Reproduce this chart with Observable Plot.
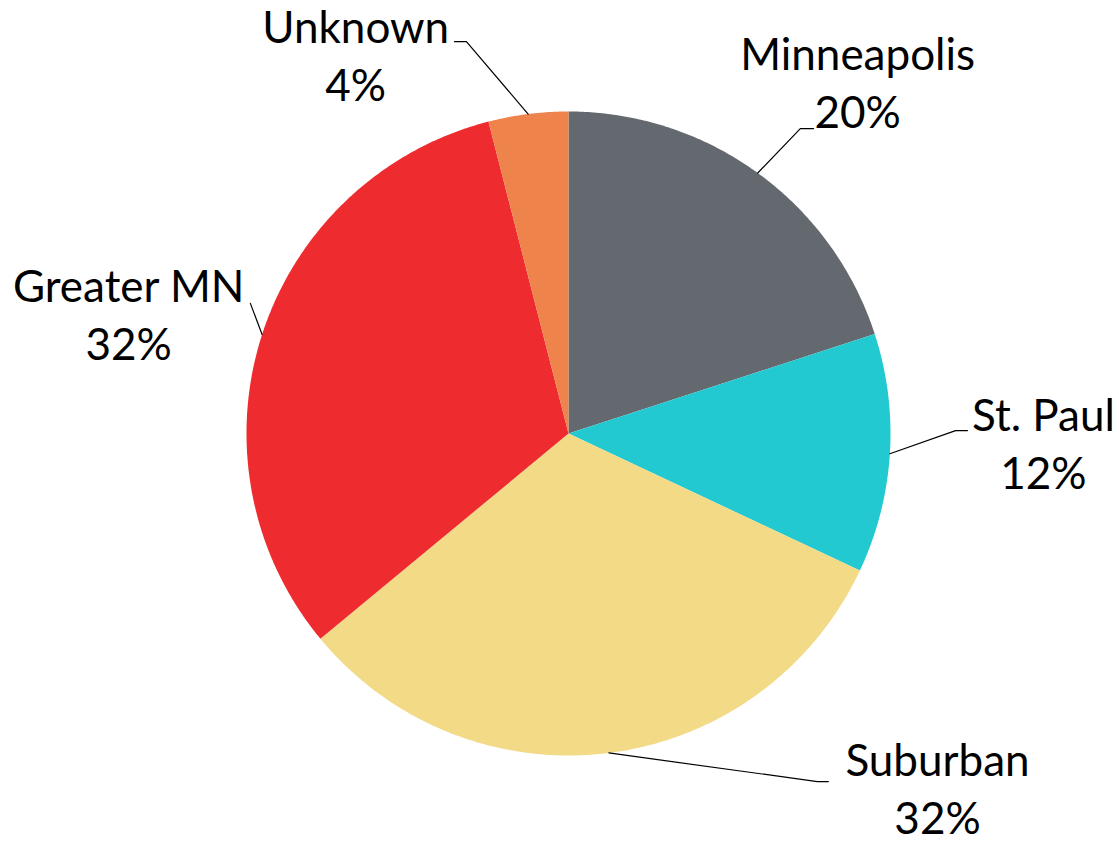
<!DOCTYPE html>
<html><head><meta charset="utf-8">
<script src="https://cdn.jsdelivr.net/npm/d3@7"></script>
<script src="https://cdn.jsdelivr.net/npm/@observablehq/plot@0.6"></script>
<style>body{margin:0;background:#fff} #chart{width:1119px;height:843px}</style>
</head><body><div id="chart"></div>
<script>
// ---- data ----
const categories = ["Minneapolis", "St. Paul", "Suburban", "Greater MN", "Unknown"];
const shares = [20, 12, 32, 32, 4];
const percentLabels = ["20%", "12%", "32%", "32%", "4%"];
const colors = ["#646970", "#23C9D1", "#F2DA87", "#EE2B2F", "#EE834B"];

// ---- layout (units of pie radius, relative to pie centre, y up) ----
const W = 1119, H = 843, CX = 568, CY = 433, R = 322;
const labelPos = [[0.898, 0.950], [1.475, -0.171], [1.146, -1.243], [-1.366, 0.227], [-0.661, 1.034]];
const leaderBends = [
  [[0.720, 0.947], [0.761, 0.947]],
  [[1.202, 0.009], [1.239, 0.009]],
  [[0.773, -1.081], [0.807, -1.081]],
  [[-0.988, 0.404]],
  [[-0.317, 1.217], [-0.354, 1.217]]
];
const leaderAngleDeg = [null, null, null, 287.9, null];
const FONT = "Lato, 'Open Sans', sans-serif";
const FS = 44;

// ---- geometry from data ----
const arcs = d3.pie().sort(null).value(d => d)(shares);
const wedgePts = [];
arcs.forEach((p, i) => {
  const cat = categories[i];
  const n = Math.max(2, Math.ceil((p.endAngle - p.startAngle) / (Math.PI / 360)));
  wedgePts.push({cat, x: 0, y: 0});
  for (let k = 0; k <= n; ++k) {
    const a = p.startAngle + (p.endAngle - p.startAngle) * k / n;
    wedgePts.push({cat, x: Math.sin(a), y: Math.cos(a)});
  }
});
const leaderPts = [];
arcs.forEach((p, i) => {
  const cat = categories[i];
  const a = leaderAngleDeg[i] != null ? leaderAngleDeg[i] * Math.PI / 180 : (p.startAngle + p.endAngle) / 2;
  leaderPts.push({cat, x: Math.sin(a), y: Math.cos(a)});
  leaderBends[i].forEach(([x, y]) => leaderPts.push({cat, x, y}));
});
const labels = categories.map((c, i) => ({cat: c, x: labelPos[i][0], y: labelPos[i][1], text: c + "\n" + percentLabels[i]}));

const chart = Plot.plot({
  width: W, height: H, margin: 0,
  x: {domain: [-CX / R, (W - CX) / R], axis: null},
  y: {domain: [-(H - CY) / R, CY / R], axis: null},
  color: {domain: categories, range: colors},
  style: {fontFamily: FONT, background: "white"},
  marks: [
    Plot.line(wedgePts, {x: "x", y: "y", z: "cat", fill: "cat", stroke: "none", curve: "linear-closed"}),
    Plot.line(leaderPts, {x: "x", y: "y", z: "cat", stroke: "black", strokeWidth: 1.2}),
    Plot.text(labels, {x: "x", y: "y", text: "text", lineAnchor: "bottom", textAnchor: "middle",
      fontSize: FS, lineHeight: 58 / FS, fill: "black", fontFamily: FONT})
  ]
});
document.getElementById("chart").appendChild(chart);
</script>
</body></html>
